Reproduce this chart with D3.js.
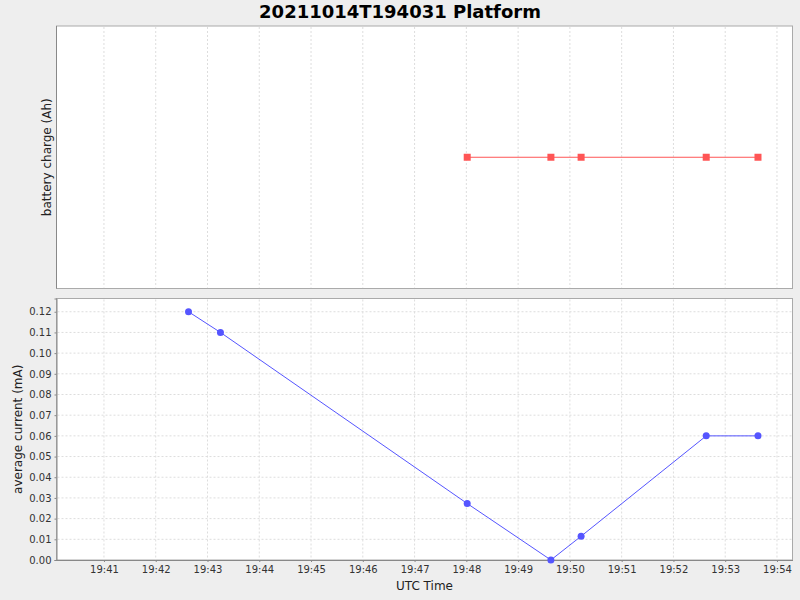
<!DOCTYPE html>
<html lang="en">
<head>
  <meta charset="UTF-8">
  <title>20211014T194031 Platform</title>
  <style>
    body { margin: 0; background-color: #eeeeee; font-family: 'DejaVu Sans', sans-serif; }
    .grid line { stroke: #dddddd; stroke-dasharray: 2,2; }
    .tick text { font-size: 10px; fill: #333; }
    .axis-label { font-size: 12px; fill: #222; }
  </style>
</head>
<body>
  <div id="chart"></div>

  <script src="https://d3js.org/d3.v7.min.js"></script>
  <script>
    // battery charge samples (UTC time, value is constant)
    const chargeTimes = ['19:48:01', '19:49:38', '19:50:13', '19:52:38', '19:53:38'];
    const chargeValues = [0, 0, 0, 0, 0];

    // average current samples
    const currentTimes = ['19:42:38', '19:43:15', '19:48:01', '19:49:38', '19:50:13', '19:52:38', '19:53:38'];
    const currentValues = [0.12, 0.11, 0.0273, 0.0, 0.0115, 0.06, 0.06];

    const currentTicks = [0, 0.01, 0.02, 0.03, 0.04, 0.05, 0.06, 0.07, 0.08, 0.09, 0.10, 0.11, 0.12];
    const timeStart = '19:40:05';
    const timeEnd = '19:54:18';

    const day = '2021-10-14T';
    const parseT = t => new Date(day + t + 'Z');

    const width = 800, height = 600;
    const left = 56.5, right = 792.5;
    const topPlot = { y0: 26, y1: 288.5 };
    const botPlot = { y0: 298.5, y1: 560 };

    const svg = d3.select('#chart').append('svg')
      .attr('width', width)
      .attr('height', height);

    svg.append('text')
      .attr('x', 400).attr('y', 18)
      .attr('text-anchor', 'middle')
      .style('font-size', '18px').style('font-weight', 'bold')
      .text('20211014T194031 Platform');

    const x = d3.scaleUtc()
      .domain([parseT(timeStart), parseT(timeEnd)])
      .range([left, right]);
    const minuteTicks = x.ticks(d3.utcMinute.every(1));

    // ---- top plot: battery charge ----
    const yTop = d3.scaleLinear().domain([-1, 1]).range([topPlot.y1, topPlot.y0]);

    svg.append('rect')
      .attr('x', left).attr('y', topPlot.y0)
      .attr('width', right - left).attr('height', topPlot.y1 - topPlot.y0)
      .attr('fill', 'white').attr('stroke', '#aaaaaa');

    svg.append('g').attr('class', 'grid')
      .selectAll('line').data(minuteTicks).enter().append('line')
      .attr('x1', d => x(d)).attr('x2', d => x(d))
      .attr('y1', topPlot.y0 + 1).attr('y2', topPlot.y1 - 1);

    svg.append('line')
      .attr('x1', left).attr('x2', left)
      .attr('y1', topPlot.y0).attr('y2', topPlot.y1)
      .attr('stroke', '#888888');

    const chargeData = chargeTimes.map((t, i) => ({ t: parseT(t), v: chargeValues[i] }));
    svg.append('path')
      .datum(chargeData)
      .attr('fill', 'none').attr('stroke', '#ff5555').attr('stroke-width', 1)
      .attr('d', d3.line().x(d => x(d.t)).y(d => yTop(d.v)));
    svg.selectAll('.sq').data(chargeData).enter().append('rect')
      .attr('class', 'sq')
      .attr('x', d => x(d.t) - 3.5).attr('y', d => yTop(d.v) - 3.5)
      .attr('width', 7).attr('height', 7)
      .attr('fill', '#ff5555');

    svg.append('text').attr('class', 'axis-label')
      .attr('transform', `translate(51,${(topPlot.y0 + topPlot.y1) / 2}) rotate(-90)`)
      .attr('text-anchor', 'middle')
      .text('battery charge (Ah)');

    // ---- bottom plot: average current ----
    const yBot = d3.scaleLinear().domain([0, 0.1264]).range([botPlot.y1, botPlot.y0]);

    svg.append('rect')
      .attr('x', left).attr('y', botPlot.y0)
      .attr('width', right - left).attr('height', botPlot.y1 - botPlot.y0)
      .attr('fill', 'white').attr('stroke', '#aaaaaa');

    svg.append('g').attr('class', 'grid')
      .selectAll('line').data(minuteTicks).enter().append('line')
      .attr('x1', d => x(d)).attr('x2', d => x(d))
      .attr('y1', botPlot.y0 + 1).attr('y2', botPlot.y1);
    svg.append('g').attr('class', 'grid')
      .selectAll('line').data(currentTicks.slice(1)).enter().append('line')
      .attr('x1', left + 1).attr('x2', right - 1)
      .attr('y1', d => yBot(d)).attr('y2', d => yBot(d));

    const yAxis = svg.append('g')
      .attr('transform', `translate(${left},0)`)
      .call(d3.axisLeft(yBot).tickValues(currentTicks).tickFormat(d3.format('.2f')).tickSize(2).tickPadding(3));
    yAxis.select('.domain').attr('stroke', '#888888');
    yAxis.selectAll('.tick line').attr('stroke', '#888888');
    yAxis.selectAll('.tick text').style('font-family', 'DejaVu Sans');

    const xAxis = svg.append('g')
      .attr('transform', `translate(0,${botPlot.y1})`)
      .call(d3.axisBottom(x).tickValues(minuteTicks).tickFormat(d3.utcFormat('%H:%M')).tickSize(2).tickSizeOuter(0).tickPadding(4));
    xAxis.select('.domain').attr('stroke', '#888888');
    xAxis.selectAll('.tick line').attr('stroke', '#888888');
    xAxis.selectAll('.tick text').style('font-family', 'DejaVu Sans');

    const currentData = currentTimes.map((t, i) => ({ t: parseT(t), v: currentValues[i] }));
    svg.append('path')
      .datum(currentData)
      .attr('fill', 'none').attr('stroke', '#5555ff').attr('stroke-width', 1)
      .attr('d', d3.line().x(d => x(d.t)).y(d => yBot(d.v)));
    svg.selectAll('.dot').data(currentData).enter().append('circle')
      .attr('class', 'dot')
      .attr('cx', d => x(d.t)).attr('cy', d => yBot(d.v))
      .attr('r', 3.5)
      .attr('fill', '#5555ff');

    svg.append('text').attr('class', 'axis-label')
      .attr('transform', `translate(22,${(botPlot.y0 + botPlot.y1) / 2}) rotate(-90)`)
      .attr('text-anchor', 'middle')
      .text('average current (mA)');

    svg.append('text').attr('class', 'axis-label')
      .attr('x', (left + right) / 2).attr('y', 590)
      .attr('text-anchor', 'middle')
      .text('UTC Time');
  </script>
</body>
</html>
